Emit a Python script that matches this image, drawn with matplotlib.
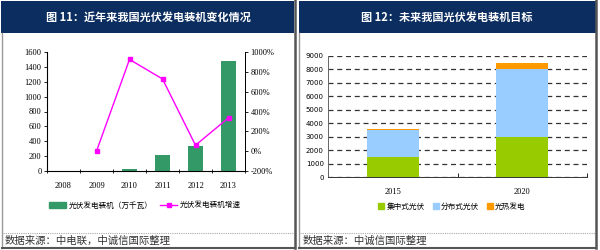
import matplotlib
matplotlib.use("Agg")
import matplotlib.pyplot as plt
from matplotlib.patches import Rectangle
from matplotlib.lines import Line2D
import numpy as np

plt.rcParams['font.family'] = ['Noto Sans CJK SC', 'DejaVu Sans']

# left chart data
years = ["2008", "2009", "2010", "2011", "2012", "2013"]
capacity = [0, 0, 22, 212, 342, 1474]           # 万千瓦
growth = [None, 0, 925, 728, 60, 336]           # %

# right chart data
target_years = ["2015", "2020"]
centralized = [1500, 3000]
distributed = [2000, 5000]
thermal = [100, 500]

W, H = 600, 250
fig = plt.figure(figsize=(6, 2.5), dpi=100)


def fx(px):
    return px / W


def fy(py):
    return 1 - py / H


def rect(x0, y0, x1, y1, **kw):
    fig.patches.append(Rectangle((fx(x0), fy(y1)), fx(x1 - x0), (y1 - y0) / H,
                                 transform=fig.transFigure, **kw))


navy = "#0b2d5f"
# headers
rect(1, 1, 294, 33, facecolor=navy, edgecolor="none")
rect(299, 1, 596, 33, facecolor=navy, edgecolor="none")
fig.text(fx(148), fy(17), "图 11：近年来我国光伏发电装机变化情况", color="white",
         fontsize=8, fontweight="bold", ha="center", va="center")
fig.text(fx(447), fy(17), "图 12：未来我国光伏发电装机目标", color="white",
         fontsize=8, fontweight="bold", ha="center", va="center")

# panel borders
for xs, ys, c, lw in [
    ((2, 2), (33, 248), "#999999", 1.0),
    ((295, 295), (0, 248), "#555555", 1.8),
    ((299, 299), (33, 248), "#999999", 1.0),
    ((596, 596), (0, 248), "#555555", 1.8),
    ((2, 295), (248, 248), "#555555", 1.5),
    ((299, 596), (248, 248), "#555555", 1.5),
]:
    fig.add_artist(Line2D([fx(x) for x in xs], [fy(y) for y in ys],
                          color=c, lw=lw, transform=fig.transFigure))
for xs in [(3, 294), (300, 595)]:
    fig.add_artist(Line2D([fx(x) for x in xs], [fy(233), fy(233)], color="#aaaaaa",
                          lw=0.8, ls=(0, (1, 1)), transform=fig.transFigure))

fig.text(fx(5), fy(241), "数据来源：中电联，中诚信国际整理", fontsize=7.5,
         style="italic", color="#333333", va="center")
fig.text(fx(303), fy(241), "数据来源：中诚信国际整理", fontsize=7.5,
         style="italic", color="#333333", va="center")

serif = "Liberation Serif"

# ---------------- left chart ----------------
ax = fig.add_axes([fx(47), fy(171), fx(245 - 47), (171 - 52) / H])
x = np.arange(len(years))
ax.bar(x, capacity, width=0.43, color="#339966", zorder=2)
ax.set_xlim(-0.5, len(years) - 0.5)
ax.set_ylim(0, 1600)
ax.set_yticks(range(0, 1601, 200))
ax.set_yticklabels([str(v) for v in range(0, 1601, 200)], family=serif, fontsize=6)
ax.set_xticks(x)
ax.set_xticklabels(years, family=serif, fontsize=6)
ax.set_xticks(np.arange(-0.5, len(years), 1), minor=True)
ax.tick_params(axis="x", which="major", length=0, pad=8)
ax.tick_params(axis="x", which="minor", length=3, direction="inout", width=0.6)
ax.tick_params(axis="y", length=2, width=0.6, pad=2)
ax.spines["top"].set_visible(False)
for s in ["left", "bottom", "right"]:
    ax.spines[s].set_linewidth(0.7)

ax2 = ax.twinx()
gx = [i for i, g in enumerate(growth) if g is not None]
gy = [g for g in growth if g is not None]
ax2.plot(gx, gy, color="#ff00ff", lw=1, marker="s", markersize=3.5, zorder=3)
ax2.set_ylim(-200, 1000)
ax2.set_yticks(range(-200, 1001, 200))
ax2.set_yticklabels([f"{v}%" for v in range(-200, 1001, 200)], family=serif, fontsize=6)
ax2.tick_params(axis="y", length=2, width=0.6, pad=2)
ax2.spines["top"].set_visible(False)
ax2.spines["right"].set_linewidth(0.7)

handles = [Rectangle((0, 0), 1, 1, color="#339966"),
           Line2D([], [], color="#ff00ff", lw=1, marker="s", markersize=3)]
fig.legend(handles, ["光伏发电装机（万千瓦）", "光伏发电装机增速"], loc="center",
           bbox_to_anchor=(fx(145), fy(206)), ncol=2, frameon=False, fontsize=5.5,
           handlelength=2.2, handleheight=0.8, columnspacing=1.0, handletextpad=0.4)

# ---------------- right chart ----------------
bx = fig.add_axes([fx(328), fy(177), fx(587 - 328), (177 - 56) / H])
tx = np.arange(len(target_years))
bw = 0.4
bx.bar(tx, centralized, width=bw, color="#99cc00", zorder=2)
bx.bar(tx, distributed, width=bw, bottom=centralized, color="#99ccff", zorder=2)
bottom2 = [a + b for a, b in zip(centralized, distributed)]
bx.bar(tx, thermal, width=bw, bottom=bottom2, color="#ff9900", zorder=2)
bx.set_xlim(-0.5, len(target_years) - 0.5)
bx.set_ylim(0, 9000)
bx.set_yticks(range(0, 9001, 1000))
bx.set_yticklabels([str(v) for v in range(0, 9001, 1000)], family="DejaVu Sans",
                   fontsize=5)
bx.set_xticks(tx)
bx.set_xticklabels(target_years, family=serif, fontsize=6)
bx.set_xticks(np.arange(-0.5, len(target_years), 1), minor=True)
bx.tick_params(axis="x", which="major", length=0, pad=8)
bx.tick_params(axis="x", which="minor", length=3, direction="in", width=0.6)
bx.tick_params(axis="y", length=0, pad=3)
bx.yaxis.grid(True, color="#333333", ls=(0, (4, 3)), lw=0.9, zorder=1)
bx.set_axisbelow(True)
bx.spines["top"].set_visible(False)
bx.spines["right"].set_visible(False)
bx.spines["left"].set_color("#666666")
bx.spines["bottom"].set_color("#333333")
for s in ["left", "bottom"]:
    bx.spines[s].set_linewidth(0.7)

handles2 = [Rectangle((0, 0), 1, 1, color=c) for c in ["#99cc00", "#99ccff", "#ff9900"]]
fig.legend(handles2, ["集中式光伏", "分布式光伏", "光热发电"], loc="center",
           bbox_to_anchor=(fx(452), fy(207)), ncol=3, frameon=False, fontsize=5.5,
           handlelength=0.8, handleheight=0.8, columnspacing=1.0, handletextpad=0.3)

fig.savefig("out.png", dpi=100)
